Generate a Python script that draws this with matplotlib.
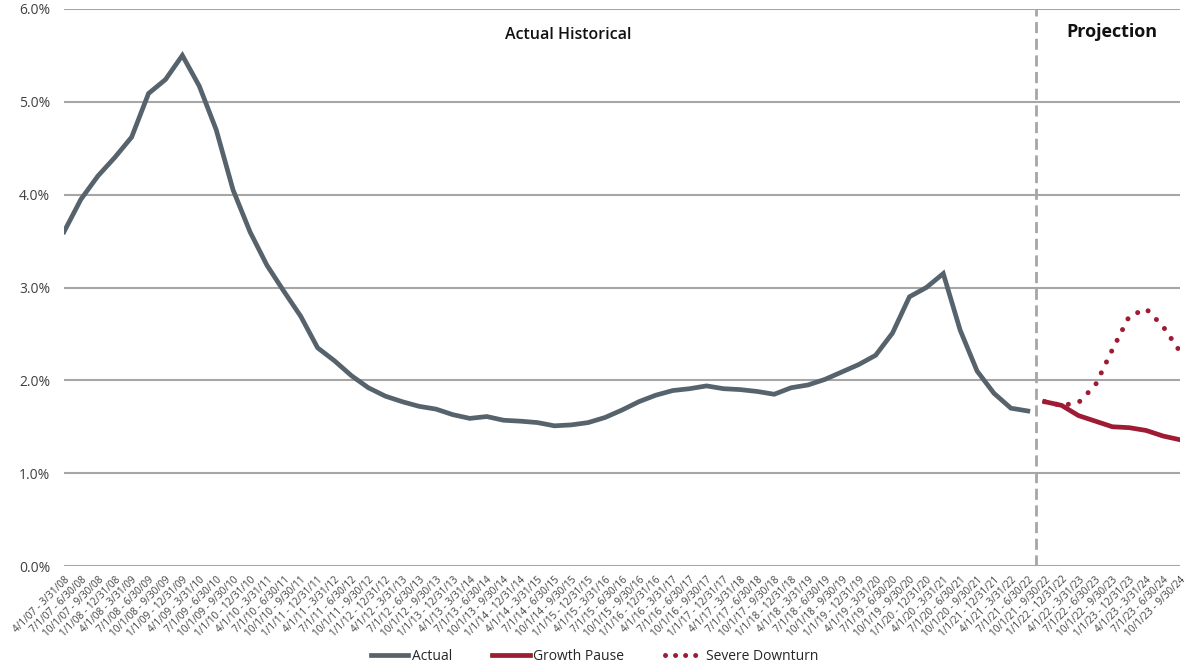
import numpy as np
import matplotlib
matplotlib.use("Agg")
import matplotlib.pyplot as plt
from matplotlib import ticker
from matplotlib.lines import Line2D

plt.rcParams['font.family'] = ['Open Sans', 'DejaVu Sans']

# rolling four-quarter periods
periods = [
    "4/1/07 - 3/31/08", "7/1/07 - 6/30/08", "10/1/07 - 9/30/08", "1/1/08 - 12/31/08",
    "4/1/08 - 3/31/09", "7/1/08 - 6/30/09", "10/1/08 - 9/30/09", "1/1/09 - 12/31/09",
    "4/1/09 - 3/31/10", "7/1/09 - 6/30/10", "10/1/09 - 9/30/10", "1/1/10 - 12/31/10",
    "4/1/10 - 3/31/11", "7/1/10 - 6/30/11", "10/1/10 - 9/30/11", "1/1/11 - 12/31/11",
    "4/1/11 - 3/31/12", "7/1/11 - 6/30/12", "10/1/11 - 9/30/12", "1/1/12 - 12/31/12",
    "4/1/12 - 3/31/13", "7/1/12 - 6/30/13", "10/1/12 - 9/30/13", "1/1/13 - 12/31/13",
    "4/1/13 - 3/31/14", "7/1/13 - 6/30/14", "10/1/13 - 9/30/14", "1/1/14 - 12/31/14",
    "4/1/14 - 3/31/15", "7/1/14 - 6/30/15", "10/1/14 - 9/30/15", "1/1/15 - 12/31/15",
    "4/1/15 - 3/31/16", "7/1/15 - 6/30/16", "10/1/15 - 9/30/16", "1/1/16 - 12/31/16",
    "4/1/16 - 3/31/17", "7/1/16 - 6/30/17", "10/1/16 - 9/30/17", "1/1/17 - 12/31/17",
    "4/1/17 - 3/31/18", "7/1/17 - 6/30/18", "10/1/17 - 9/30/18", "1/1/18 - 12/31/18",
    "4/1/18 - 3/31/19", "7/1/18 - 6/30/19", "10/1/18 - 9/30/19", "1/1/19 - 12/31/19",
    "4/1/19 - 3/31/20", "7/1/19 - 6/30/20", "10/1/19 - 9/30/20", "1/1/20 - 12/31/20",
    "4/1/20 - 3/31/21", "7/1/20 - 6/30/21", "10/1/20 - 9/30/21", "1/1/21 - 12/31/21",
    "4/1/21 - 3/31/22", "7/1/21 - 6/30/22", "10/1/21 - 9/30/22", "1/1/22 - 12/31/22",
    "4/1/22 - 3/31/23", "7/1/22 - 6/30/23", "10/1/22 - 9/30/23", "1/1/23 - 12/31/23",
    "4/1/23 - 3/31/24", "7/1/23 - 6/30/24", "10/1/23 - 9/30/24",
]

# rates in percent
actual = [3.60, 3.95, 4.20, 4.40, 4.62, 5.09, 5.24, 5.50, 5.17, 4.70,
          4.05, 3.60, 3.24, 2.96, 2.69, 2.35, 2.21, 2.05, 1.92, 1.83,
          1.77, 1.72, 1.69, 1.63, 1.59, 1.61, 1.57, 1.56, 1.545, 1.51,
          1.52, 1.545, 1.60, 1.68, 1.77, 1.84, 1.89, 1.91, 1.94, 1.91,
          1.90, 1.88, 1.85, 1.92, 1.95, 2.01, 2.09, 2.17, 2.27, 2.51,
          2.90, 3.00, 3.15, 2.54, 2.10, 1.86, 1.70, 1.67]
growth_pause = [1.77, 1.73, 1.62, 1.56, 1.50, 1.49, 1.46, 1.40, 1.36]
severe_downturn = [1.77, 1.73, 1.76, 1.95, 2.33, 2.69, 2.77, 2.58, 2.31]

gray = '#57636c'
red = '#9e1b34'
grid = '#a6a6a6'

x_actual = np.arange(len(actual))
x_proj = np.arange(len(actual), len(actual) + len(growth_pause))

fig = plt.figure(figsize=(11.89, 6.62), dpi=100)
ax = fig.add_axes([64 / 1189, 1 - 566 / 662, 1116 / 1189, 557 / 662])

ax.plot(x_actual, actual, color=gray, lw=3.4, solid_joinstyle='miter', zorder=3)
ax.plot(x_proj, severe_downturn, color=red, lw=3.6, linestyle=(0, (0.01, 2.4)),
        dash_capstyle='round', zorder=3)
ax.plot(x_proj, growth_pause, color=red, lw=3.4, zorder=4)

# divider between history and projection
ax.axvline(len(actual) - 0.5, color=grid, lw=2.0, linestyle=(0, (4, 2)), zorder=2)

ax.set_xlim(0, len(periods) - 1)
ax.set_ylim(0, 6)
ax.set_yticks(np.arange(0, 6.01, 1.0))
ax.yaxis.set_major_formatter(ticker.PercentFormatter(xmax=100, decimals=1))
ax.yaxis.grid(True, color=grid, lw=1.5)
ax.set_axisbelow(True)
for s in ax.spines.values():
    s.set_visible(False)

ax.set_xticks(np.arange(len(periods)))
ax.set_xticklabels(periods, rotation=45, ha='right', va='top',
                   rotation_mode='anchor', fontsize=7.2, color='#404040')
ax.tick_params(axis='x', length=0, pad=6)
ax.tick_params(axis='y', length=0, pad=10, labelsize=10, labelcolor='#404040')

trans = ax.get_xaxis_transform()
ax.text(29.8, 0.953, "Actual Historical", transform=trans, ha='center', va='center',
        fontsize=11.5, fontweight='semibold', color='#111111')
ax.text(62.0, 0.958, "Projection", transform=trans, ha='center', va='center',
        fontsize=13, fontweight='bold', color='#111111')

handles = [
    Line2D([], [], color=gray, lw=3.4),
    Line2D([], [], color=red, lw=3.4),
    Line2D([], [], color=red, lw=3.6, linestyle=(0, (0.01, 2.0)), dash_capstyle='round'),
]
fig.legend(handles, ["Actual", "Growth Pause", "Severe Downturn"], loc='lower center',
           bbox_to_anchor=(0.5, -0.022), ncol=3, frameon=False, fontsize=10,
           handlelength=2.7, handletextpad=0.25, columnspacing=2.9,
           labelcolor='#262626')

fig.savefig("out.png", dpi=100)
